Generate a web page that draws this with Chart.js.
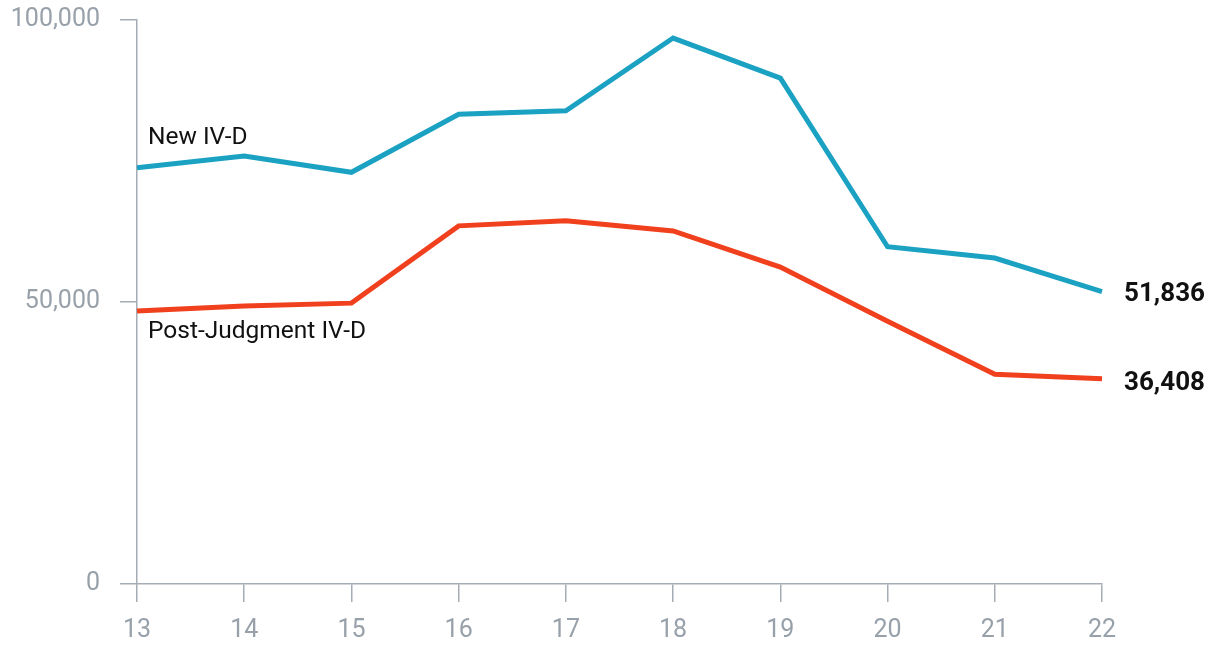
<!DOCTYPE html>
<html>
<head>
<meta charset="utf-8">
<script src="https://cdn.jsdelivr.net/npm/chart.js@4"></script>
<style>
  html, body { margin: 0; padding: 0; background: #fff; }
  #wrap { width: 1215px; height: 645px; }
</style>
</head>
<body>
<div id="wrap"><canvas id="chart"></canvas></div>
<script>
// Datos
const years = ['13', '14', '15', '16', '17', '18', '19', '20', '21', '22'];
const newIVD = [73800, 75900, 73000, 83300, 83900, 96800, 89700, 59800, 57800, 51836];
const postJudgment = [48400, 49300, 49800, 63500, 64400, 62600, 56200, 46600, 37200, 36408];
const seriesNames = ['New IV-D', 'Post-Judgment IV-D'];
const yTicks = [0, 50000, 100000];

const axisGray = '#a5acb3';
const tickGray = '#98a1aa';

// Etiquetas de las series y valores finales
const labelPlugin = {
    id: 'seriesLabels',
    afterDatasetsDraw(chart) {
        const ctx = chart.ctx;
        const x = chart.scales.x;
        const y = chart.scales.y;
        const last = years.length - 1;
        ctx.save();
        ctx.fillStyle = '#111';
        ctx.textBaseline = 'middle';
        ctx.textAlign = 'left';
        ctx.font = '24.5px Roboto';
        ctx.fillText(seriesNames[0], x.getPixelForValue(0) + 11, y.getPixelForValue(newIVD[0]) - 30);
        ctx.fillText(seriesNames[1], x.getPixelForValue(0) + 11, y.getPixelForValue(postJudgment[0]) + 21);
        ctx.font = 'bold 26px Roboto';
        ctx.fillText(newIVD[last].toLocaleString('en-US'), x.getPixelForValue(last) + 22, y.getPixelForValue(newIVD[last]) + 3);
        ctx.fillText(postJudgment[last].toLocaleString('en-US'), x.getPixelForValue(last) + 22, y.getPixelForValue(postJudgment[last]) + 5);
        ctx.restore();
    }
};

new Chart(document.getElementById('chart'), {
    type: 'line',
    data: {
        labels: years,
        datasets: [{
            label: seriesNames[0],
            data: newIVD,
            borderColor: '#1ba2c3',
            borderWidth: 5,
            pointRadius: 0,
            tension: 0
        }, {
            label: seriesNames[1],
            data: postJudgment,
            borderColor: '#f0401d',
            borderWidth: 5,
            pointRadius: 0,
            tension: 0
        }]
    },
    options: {
        responsive: true,
        maintainAspectRatio: false,
        animation: false,
        layout: { padding: { top: 20, right: 113, left: 0, bottom: 0 } },
        plugins: {
            legend: { display: false },
            tooltip: { enabled: false }
        },
        scales: {
            x: {
                offset: false,
                grid: { drawOnChartArea: false, drawTicks: true, tickLength: 18, color: axisGray, lineWidth: 1.5 },
                border: { display: true, color: axisGray, width: 1.5 },
                ticks: { color: tickGray, font: { family: 'Roboto', size: 25 }, padding: 14, maxRotation: 0 },
                afterFit: s => { s.height = 61; s.paddingLeft = 0; s.paddingRight = 0; }
            },
            y: {
                min: 0,
                max: 100000,
                afterBuildTicks: s => { s.ticks = yTicks.map(v => ({ value: v })); },
                grid: { drawOnChartArea: false, drawTicks: true, tickLength: 17, color: axisGray, lineWidth: 1.5 },
                border: { display: true, color: axisGray, width: 1.5 },
                ticks: {
                    color: tickGray,
                    font: { family: 'Roboto', size: 25 },
                    padding: 20,
                    callback: v => v.toLocaleString('en-US')
                },
                afterFit: s => { s.width = 137; s.paddingTop = 0; s.paddingBottom = 0; }
            }
        }
    },
    plugins: [labelPlugin]
});
</script>
</body>
</html>
